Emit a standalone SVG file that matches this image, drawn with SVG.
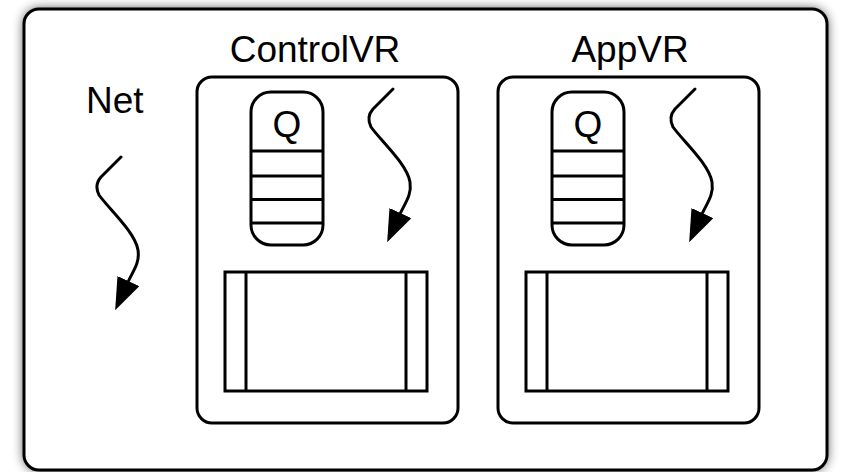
<svg xmlns="http://www.w3.org/2000/svg" width="842" height="472" viewBox="0 0 842 472">
  <style>
    .line { fill: none; stroke: #000; stroke-width: 3; stroke-linejoin: round; stroke-linecap: round; }
    .box { fill: #fff; stroke: #000; stroke-width: 3; }
    .thin { fill: none; stroke: #000; stroke-width: 3; }
    .label { font-family: "Liberation Sans", Arial, Helvetica, sans-serif; font-size: 37px; fill: #000; }
  </style>
  <defs>
    <filter id="shadow" x="-10%" y="-10%" width="120%" height="120%">
      <feGaussianBlur stdDeviation="6"/>
    </filter>
    <marker id="arrow" markerUnits="userSpaceOnUse" viewBox="0 0 32 24" markerWidth="32" markerHeight="24" refX="1" refY="12" orient="auto">
      <path d="M0,0 L32,12 L0,24 z" fill="#000"/>
    </marker>
    <!-- wavy thread symbol, drawn from its starting point -->
    <path id="thread" class="line" d="M0,0 L-20,20 Q-27,28 -22,38 C-12,52 14,75 17,93 C19,106 12,114 7,125" marker-end="url(#arrow)"/>
    <!-- virtual resource: queue, thread and display frame -->
    <g id="vr-body">
      <rect class="box" x="197" y="77" width="261" height="346" rx="15" ry="15"/>
      <rect class="box" x="251" y="92" width="72" height="153" rx="20" ry="20"/>
      <line class="thin" x1="251" y1="151" x2="323" y2="151"/>
      <line class="thin" x1="251" y1="176" x2="323" y2="176"/>
      <line class="thin" x1="251" y1="199.5" x2="323" y2="199.5"/>
      <line class="thin" x1="251" y1="223" x2="323" y2="223"/>
      <text class="label" x="287" y="137" text-anchor="middle">Q</text>
      <rect class="box" x="225" y="272" width="202" height="119"/>
      <line class="thin" x1="246" y1="272" x2="246" y2="391"/>
      <line class="thin" x1="406" y1="272" x2="406" y2="391"/>
    </g>
  </defs>

  <!-- outer frame with soft shadow -->
  <rect x="24" y="9" width="803" height="461" rx="15" ry="15" fill="#000" opacity="0.75" filter="url(#shadow)"/>
  <rect class="box" x="24" y="9" width="803" height="461" rx="15" ry="15"/>

  <g id="net">
    <text class="label" x="86" y="113">Net</text>
  </g>

  <g id="controlvr">
    <text class="label" x="315" y="62" text-anchor="middle">ControlVR</text>
    <use href="#vr-body"/>
  </g>

  <g id="appvr">
    <text class="label" x="630" y="62" text-anchor="middle">AppVR</text>
    <use href="#vr-body" transform="translate(301,0)"/>
  </g>

  <g id="threads">
    <use href="#thread" transform="translate(121,157)"/>
    <use href="#thread" transform="translate(393,89)"/>
    <use href="#thread" transform="translate(695,89)"/>
  </g>
</svg>
